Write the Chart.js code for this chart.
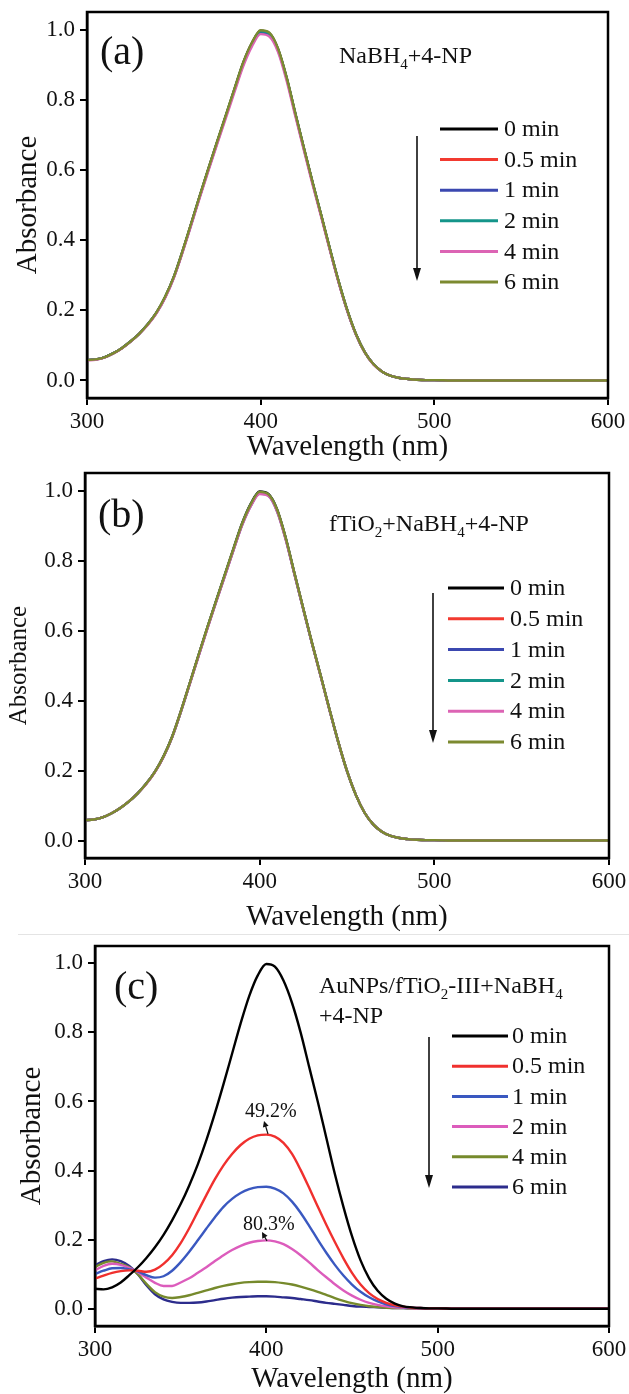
<!DOCTYPE html>
<html>
<head>
<meta charset="utf-8">
<script src="https://cdn.jsdelivr.net/npm/chart.js@4.4.0/dist/chart.umd.min.js"></script>
<style>
  body { margin: 0; background: #fff; }
  #page { position: relative; width: 629px; height: 1394px; overflow: hidden;
          font-family: "Liberation Serif", "Times New Roman", serif; color: #111; }
  .panel { position: absolute; left: 0; width: 629px; }
  .lbl { position: absolute; white-space: nowrap; line-height: 1; }
  .big { font-size: 40px; }
  .note { font-size: 24px; }
  .pct { font-size: 20px; }
  .lbl sub { font-size: 15px; vertical-align: -6px; line-height: 0; }
  #sep { position: absolute; left: 18px; right: 0; top: 934px; height: 1px; background: #e4e4e4; }
</style>
</head>
<body>
<div id="page">
  <div class="panel" style="top:0;height:462px"><canvas id="chartA" width="629" height="462"></canvas></div>
  <div class="panel" style="top:462px;height:470px"><canvas id="chartB" width="629" height="470"></canvas></div>
  <div id="sep"></div>
  <div class="panel" style="top:935px;height:459px"><canvas id="chartC" width="629" height="459"></canvas></div>

  <div class="lbl big" style="left:100px;top:31px">(a)</div>
  <div class="lbl note" style="left:339px;top:43px">NaBH<sub>4</sub>+4-NP</div>

  <div class="lbl big" style="left:98px;top:494px">(b)</div>
  <div class="lbl note" style="left:329px;top:511px">fTiO<sub>2</sub>+NaBH<sub>4</sub>+4-NP</div>

  <div class="lbl big" style="left:114px;top:966px">(c)</div>
  <div class="lbl note" style="left:319px;top:973px">AuNPs/fTiO<sub>2</sub>-III+NaBH<sub>4</sub></div>
  <div class="lbl note" style="left:319px;top:1003px">+4-NP</div>
  <div class="lbl pct" style="left:245px;top:1100px">49.2%</div>
  <div class="lbl pct" style="left:243px;top:1213px">80.3%</div>
</div>

<script>
// ---------------- Data ----------------
const wavelength = [
  300,305,310,315,320,325,330,335,340,345,
  350,355,360,365,370,375,380,385,390,395,
  400,405,410,415,420,425,430,435,440,445,
  450,455,460,465,470,475,480,485,490,495,
  500,510,520,540,560,580,600
];
const minutes = ["0 min", "0.5 min", "1 min", "2 min", "4 min", "6 min"];
const xTicks = [300, 400, 500, 600];
const yTicks = [0, 0.2, 0.4, 0.6, 0.8, 1.0];

// (a) NaBH4 + 4-NP
const a0 = [
  .058,.060,.066,.077,.092,.111,.133,.160,.193,.238,
  .295,.368,.447,.527,.605,.681,.756,.832,.906,.962,
  .997,.990,.945,.862,.760,.660,.562,.468,.372,.280,
  .198,.130,.080,.046,.025,.013,.007,.004,.002,.001,
  .001,0,0,0,0,0,0
];
const a05 = [
  .058,.060,.066,.077,.092,.111,.133,.160,.193,.237,
  .294,.367,.446,.525,.603,.679,.754,.829,.902,.958,
  .993,.987,.942,.860,.758,.659,.561,.467,.371,.279,
  .197,.130,.080,.046,.025,.013,.007,.004,.002,.001,
  .001,0,0,0,0,0,0
];
const a1 = [
  .058,.060,.066,.077,.092,.111,.133,.160,.193,.237,
  .294,.367,.445,.525,.602,.678,.753,.828,.901,.957,
  .992,.986,.941,.859,.758,.658,.561,.467,.371,.279,
  .197,.130,.080,.046,.025,.013,.007,.004,.002,.001,
  .001,0,0,0,0,0,0
];
const a2 = [
  .058,.060,.066,.077,.092,.111,.133,.160,.193,.238,
  .295,.368,.446,.526,.604,.680,.755,.830,.904,.960,
  .995,.988,.943,.861,.759,.659,.562,.468,.372,.280,
  .198,.130,.080,.046,.025,.013,.007,.004,.002,.001,
  .001,0,0,0,0,0,0
];
const a4 = [
  .057,.059,.065,.076,.091,.110,.132,.158,.191,.235,
  .292,.364,.442,.522,.599,.674,.748,.823,.896,.952,
  .987,.980,.936,.853,.752,.653,.556,.463,.368,.277,
  .196,.129,.079,.045,.025,.013,.007,.004,.002,.001,
  .001,0,0,0,0,0,0
];
const a6 = [
  .058,.060,.066,.077,.092,.111,.133,.160,.194,.239,
  .296,.369,.448,.528,.606,.682,.757,.833,.907,.963,
  .998,.991,.946,.863,.761,.661,.563,.469,.373,.281,
  .199,.131,.080,.046,.025,.013,.007,.004,.002,.001,
  .001,0,0,0,0,0,0
];

// (b) fTiO2 + NaBH4 + 4-NP
const b0 = [
  .058,.060,.066,.077,.092,.111,.134,.162,.196,.241,
  .298,.371,.450,.530,.608,.684,.759,.834,.907,.963,
  .997,.990,.946,.863,.762,.662,.564,.470,.374,.282,
  .199,.131,.080,.046,.025,.013,.007,.004,.002,.001,
  .001,0,0,0,0,0,0
];
const b05 = [
  .058,.060,.066,.077,.092,.111,.134,.162,.196,.240,
  .297,.370,.449,.528,.606,.682,.757,.831,.904,.959,
  .993,.987,.943,.861,.760,.661,.563,.469,.373,.281,
  .198,.131,.080,.046,.025,.013,.007,.004,.002,.001,
  .001,0,0,0,0,0,0
];
const b1 = [
  .058,.060,.066,.077,.092,.111,.134,.162,.196,.240,
  .297,.370,.448,.527,.605,.681,.755,.830,.902,.957,
  .991,.985,.940,.859,.759,.660,.562,.469,.373,.281,
  .198,.131,.080,.046,.025,.013,.007,.004,.002,.001,
  .001,0,0,0,0,0,0
];
const b2 = [
  .058,.060,.066,.077,.092,.111,.134,.162,.196,.240,
  .297,.370,.449,.529,.607,.683,.758,.832,.905,.961,
  .995,.988,.944,.862,.761,.661,.563,.469,.373,.281,
  .198,.131,.080,.046,.025,.013,.007,.004,.002,.001,
  .001,0,0,0,0,0,0
];
const b4 = [
  .058,.060,.066,.077,.092,.111,.134,.161,.195,.239,
  .296,.369,.447,.526,.604,.680,.754,.829,.901,.956,
  .990,.984,.940,.858,.759,.660,.562,.468,.372,.281,
  .198,.131,.080,.046,.025,.013,.007,.004,.002,.001,
  .001,0,0,0,0,0,0
];
const b6 = [
  .058,.060,.066,.077,.092,.111,.134,.162,.196,.241,
  .298,.371,.450,.530,.608,.684,.759,.834,.906,.962,
  .996,.989,.945,.863,.762,.662,.564,.470,.374,.282,
  .199,.131,.080,.046,.025,.013,.007,.004,.002,.001,
  .001,0,0,0,0,0,0
];

// (c) AuNPs/fTiO2-III + NaBH4 + 4-NP
const c0 = [
  .058,.056,.062,.076,.097,.120,.147,.178,.214,.256,
  .303,.357,.418,.488,.566,.650,.738,.826,.905,.965,
  .998,.990,.950,.885,.800,.700,.600,.495,.390,.295,
  .210,.140,.088,.052,.029,.015,.007,.004,.002,.001,
  .001,0,0,0,0,0,0
];
const c05 = [
  .087,.096,.104,.109,.111,.110,.107,.113,.130,.155,
  .190,.233,.281,.329,.375,.415,.448,.474,.492,.502,
  .504,.498,.480,.448,.402,.350,.296,.243,.193,.146,
  .104,.070,.045,.028,.017,.010,.006,.003,.002,.001,
  .001,0,0,0,0,0,0
];
const c1 = [
  .101,.110,.117,.118,.114,.108,.097,.090,.094,.110,
  .135,.165,.198,.232,.265,.295,.318,.335,.346,.352,
  .353,.348,.334,.310,.278,.240,.200,.162,.127,.096,
  .070,.049,.033,.021,.013,.008,.005,.003,.002,.001,
  .001,0,0,0,0,0,0
];
const c2 = [
  .111,.124,.130,.127,.118,.106,.090,.075,.066,.066,
  .076,.088,.104,.120,.138,.155,.170,.182,.191,.196,
  .198,.195,.187,.173,.155,.134,.112,.091,.071,.053,
  .038,.026,.017,.011,.007,.004,.003,.002,.001,.001,
  .001,0,0,0,0,0,0
];
const c4 = [
  .121,.133,.137,.130,.120,.100,.072,.048,.035,.031,
  .034,.039,.046,.053,.060,.066,.071,.075,.077,.078,
  .078,.077,.074,.070,.064,.057,.049,.040,.031,.023,
  .016,.011,.007,.005,.003,.002,.002,.001,.001,.001,
  .001,0,0,0,0,0,0
];
const c6 = [
  .126,.138,.143,.138,.124,.100,.068,.042,.027,.020,
  .017,.017,.018,.021,.025,.029,.032,.034,.035,.036,
  .036,.035,.033,.031,.028,.025,.021,.017,.014,.011,
  .008,.006,.005,.004,.003,.002,.002,.001,.001,.001,
  .001,0,0,0,0,0,0
];

const colorsAB = ["#000000", "#f23a30", "#3b48b0", "#14958a", "#dc64b4", "#7c8a30"];
const colorsC  = ["#000000", "#f0302e", "#3a58c0", "#dc5cbc", "#768a2c", "#2c2c8c"];

// ---------------- Helpers ----------------
const FONT = '"Liberation Serif", "Times New Roman", serif';
Chart.defaults.font.family = FONT;
Chart.defaults.color = "#111";

function drawArrow(ctx, a) {
  const ang = Math.atan2(a.y2 - a.y1, a.x2 - a.x1);
  ctx.strokeStyle = "#111";
  ctx.fillStyle = "#111";
  ctx.lineWidth = a.lw || 1.6;
  ctx.beginPath();
  ctx.moveTo(a.x1, a.y1);
  ctx.lineTo(a.x2 - Math.cos(ang) * a.head * 0.6, a.y2 - Math.sin(ang) * a.head * 0.6);
  ctx.stroke();
  ctx.beginPath();
  ctx.moveTo(a.x2, a.y2);
  ctx.lineTo(a.x2 - Math.cos(ang) * a.head + Math.sin(ang) * a.half,
             a.y2 - Math.sin(ang) * a.head - Math.cos(ang) * a.half);
  ctx.lineTo(a.x2 - Math.cos(ang) * a.head - Math.sin(ang) * a.half,
             a.y2 - Math.sin(ang) * a.head + Math.cos(ang) * a.half);
  ctx.closePath();
  ctx.fill();
}

// frame on all four sides, inline legend, arrows
const decor = {
  id: "decor",
  afterDraw(chart, args, o) {
    const { ctx, chartArea: ca } = chart;
    ctx.save();
    ctx.strokeStyle = "#000";
    ctx.lineWidth = 2.5;
    ctx.strokeRect(ca.left, ca.top, ca.right - ca.left, ca.bottom - ca.top);

    const lg = o.legend;
    ctx.font = "24px " + FONT;
    ctx.textBaseline = "middle";
    chart.data.datasets.forEach((ds, i) => {
      const y = lg.y0 + i * lg.dy;
      ctx.strokeStyle = ds.borderColor;
      ctx.lineWidth = 3;
      ctx.beginPath();
      ctx.moveTo(lg.x1, y);
      ctx.lineTo(lg.x2, y);
      ctx.stroke();
      ctx.fillStyle = "#111";
      ctx.fillText(ds.label, lg.tx, y + 1);
    });

    (o.arrows || []).forEach(a => drawArrow(ctx, a));
    ctx.restore();
  }
};

function makeChart(id, series, colors, box) {
  const datasets = series.map((vals, i) => ({
    label: minutes[i],
    data: wavelength.map((w, k) => ({ x: w, y: vals[k] })),
    borderColor: colors[i],
    backgroundColor: "transparent",
    borderWidth: 2.4,
    order: box.topLast ? series.length - i : i,
    cubicInterpolationMode: "monotone"
  }));

  return new Chart(document.getElementById(id), {
    type: "line",
    data: { datasets },
    plugins: [decor],
    options: {
      responsive: false,
      animation: false,
      devicePixelRatio: 1,
      layout: { padding: { left: 0, right: 629 - box.right, top: box.top, bottom: 0 } },
      elements: { point: { radius: 0 } },
      plugins: {
        legend: { display: false },
        tooltip: { enabled: false },
        decor: { legend: box.legend, arrows: box.arrows }
      },
      scales: {
        x: {
          type: "linear",
          min: 300,
          max: 600,
          afterBuildTicks: s => { s.ticks = xTicks.map(v => ({ value: v })); },
          afterFit: s => { s.height = box.xh; s.paddingLeft = 0; s.paddingRight = 0; },
          ticks: { color: "#111", font: { family: FONT, size: 23, lineHeight: 1 }, padding: 5, maxRotation: 0 },
          grid: { drawOnChartArea: false, drawTicks: true, tickLength: 7, color: "#000", lineWidth: 2 },
          border: { display: true, color: "#000", width: 2.5 },
          title: {
            display: true, text: "Wavelength (nm)", color: "#111",
            font: { family: FONT, size: 29, lineHeight: 1 }, padding: { top: 0, bottom: 0 }
          }
        },
        y: {
          min: -0.05,
          max: 1.05,
          afterBuildTicks: s => { s.ticks = yTicks.map(v => ({ value: v })); },
          afterFit: s => { s.width = box.left; s.paddingTop = 0; s.paddingBottom = 0; },
          ticks: {
            color: "#111", font: { family: FONT, size: 23, lineHeight: 1 }, padding: 5,
            callback: v => v.toFixed(1)
          },
          grid: { drawOnChartArea: false, drawTicks: true, tickLength: 7, color: "#000", lineWidth: 2 },
          border: { display: true, color: "#000", width: 2.5 },
          title: {
            display: true, text: "Absorbance", color: "#111",
            font: { family: FONT, size: box.ytSize, lineHeight: 1 }, padding: { top: box.ytPad, bottom: 0 }
          }
        }
      }
    }
  });
}

// ---------------- Init ----------------
makeChart("chartA", [a0, a05, a1, a2, a4, a6], colorsAB, {
  left: 87, right: 608, top: 12, xh: 64, topLast: true, ytSize: 29, ytPad: 13.5,
  legend: { x1: 440, x2: 498, tx: 504, y0: 129, dy: 30.6 },
  arrows: [{ x1: 417, y1: 136, x2: 417, y2: 281, head: 13, half: 4 }]
});

makeChart("chartB", [b0, b05, b1, b2, b4, b6], colorsAB, {
  left: 85, right: 609, top: 11, xh: 74, topLast: true, ytSize: 25, ytPad: 7,
  legend: { x1: 448, x2: 504, tx: 510, y0: 126, dy: 30.8 },
  arrows: [{ x1: 433, y1: 131, x2: 433, y2: 281, head: 13, half: 4 }]
});

makeChart("chartC", [c0, c05, c1, c2, c4, c6], colorsC, {
  left: 95, right: 609, top: 11, xh: 68, topLast: false, ytSize: 29, ytPad: 17.5,
  legend: { x1: 452, x2: 508, tx: 512, y0: 101, dy: 30.2 },
  arrows: [
    { x1: 429, y1: 102, x2: 429, y2: 253, head: 13, half: 4 },
    { x1: 268, y1: 199, x2: 264, y2: 186, head: 6, half: 3, lw: 1.2 },
    { x1: 267, y1: 306, x2: 262, y2: 297, head: 6, half: 3, lw: 1.2 }
  ]
});
</script>
</body>
</html>
